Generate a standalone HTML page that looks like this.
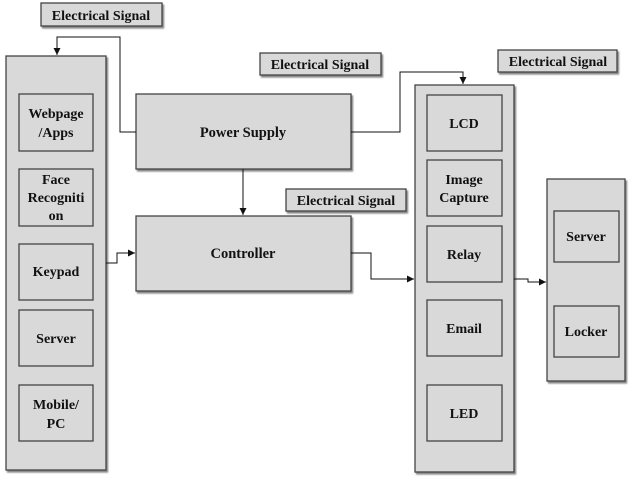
<!DOCTYPE html>
<html><head><meta charset="utf-8"><style>
html,body{margin:0;padding:0;background:#fff;}
svg{display:block;}
text{font-family:"Liberation Serif",serif;font-weight:bold;fill:#111;text-anchor:middle;}
.b{fill:#d9d9d9;stroke:#444;stroke-width:1.3;}
.l{fill:none;stroke:#111;stroke-width:1;}
</style></head><body>
<svg width="632" height="482" viewBox="0 0 632 482">
<defs>
<filter id="s" x="-10%" y="-10%" width="130%" height="130%"><feDropShadow dx="1.5" dy="2" stdDeviation="0.8" flood-color="#555" flood-opacity="0.7"/></filter>
<marker id="a" markerWidth="8" markerHeight="8" refX="7" refY="4" orient="auto" markerUnits="userSpaceOnUse"><path d="M0,0.5 L7,4 L0,7.5 z" fill="#111"/></marker>
</defs>
<g filter="url(#s)">
<rect class="b" x="41" y="3" width="121" height="23"/>
<rect class="b" x="260" y="53" width="121" height="22"/>
<rect class="b" x="286" y="189" width="120" height="22"/>
<rect class="b" x="498" y="50" width="119" height="22"/>
<rect class="b" x="6" y="56" width="100" height="414"/>
<rect class="b" x="415" y="85" width="99" height="387"/>
<rect class="b" x="547" y="179" width="78" height="202"/>
<rect class="b" x="136" y="94" width="215" height="75"/>
<rect class="b" x="136" y="216" width="215" height="75"/>
<rect class="b" x="19" y="94" width="74" height="57"/>
<rect class="b" x="19" y="169" width="74" height="57"/>
<rect class="b" x="19" y="244" width="74" height="56"/>
<rect class="b" x="19" y="310" width="74" height="56"/>
<rect class="b" x="19" y="385" width="74" height="56"/>
<rect class="b" x="427" y="95" width="75" height="56"/>
<rect class="b" x="427" y="160" width="75" height="56"/>
<rect class="b" x="427" y="226" width="75" height="56"/>
<rect class="b" x="427" y="300" width="75" height="56"/>
<rect class="b" x="427" y="385" width="75" height="56"/>
<rect class="b" x="554" y="211" width="65" height="51"/>
<rect class="b" x="554" y="306" width="65" height="51"/>
</g>
<path class="l" d="M136,132 H120 V37 H57 V55" marker-end="url(#a)"/>
<path class="l" d="M351,132 H400 V72 H463 V84" marker-end="url(#a)"/>
<path class="l" d="M243,169 V215" marker-end="url(#a)"/>
<path class="l" d="M106,263 H117 V253 H135" marker-end="url(#a)"/>
<path class="l" d="M351,253 H371 V279 H414" marker-end="url(#a)"/>
<path class="l" d="M514,279 H528 V282 H546" marker-end="url(#a)"/>
<g font-size="14">
<text x="101" y="20">Electrical Signal</text>
<text x="320" y="69">Electrical Signal</text>
<text x="346" y="205">Electrical Signal</text>
<text x="558" y="66">Electrical Signal</text>
</g>
<g font-size="14.5">
<text x="243" y="137">Power Supply</text>
<text x="243" y="258">Controller</text>
</g>
<g font-size="14">
<text x="56" y="118">Webpage</text><text x="56" y="137">/Apps</text>
<text x="56" y="184">Face</text><text x="56" y="202">Recogniti</text><text x="56" y="220">on</text>
<text x="56" y="276">Keypad</text>
<text x="56" y="343">Server</text>
<text x="56" y="409">Mobile/</text><text x="56" y="428">PC</text>
<text x="464" y="128">LCD</text>
<text x="464" y="184">Image</text><text x="464" y="202">Capture</text>
<text x="464" y="259">Relay</text>
<text x="464" y="333">Email</text>
<text x="464" y="418">LED</text>
<text x="586" y="241">Server</text>
<text x="586" y="336">Locker</text>
</g>
</svg>
</body></html>
